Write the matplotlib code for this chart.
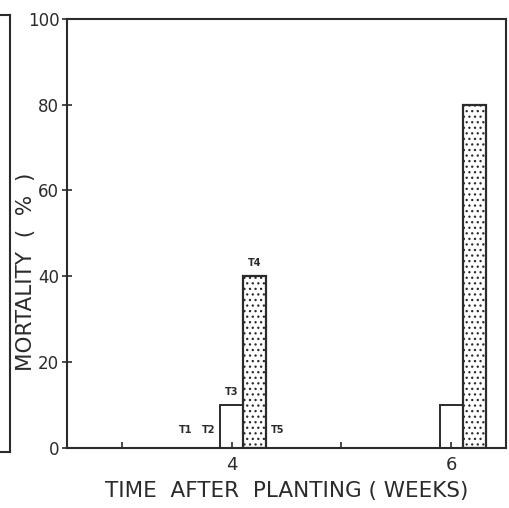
import matplotlib.pyplot as plt
import numpy as np

# mortality (%) per treatment at 4 and 6 weeks after planting
weeks = [4, 6]
treatments = ["T1", "T2", "T3", "T4", "T5"]
mortality = {
    "T1": [0, 0],
    "T2": [0, 0],
    "T3": [10, 10],
    "T4": [40, 80],
    "T5": [0, 0],
}
yticks = [0, 20, 40, 60, 80, 100]

plt.rcParams["hatch.linewidth"] = 0.9
ink = "#2b2b2b"

fig = plt.figure(figsize=(5.09, 5.08), dpi=100)
ax = fig.add_axes([0.1316, 0.118, 0.8624, 0.845])

# edge of the neighbouring panel, cut off on the left
nb = fig.add_axes([-0.5, 0.11, 0.52, 0.86])
nb.set_xticks([])
nb.set_yticks([])
for s in nb.spines.values():
    s.set_linewidth(1.5)
    s.set_color(ink)

w = 0.21
x = np.array(weeks, dtype=float)
for i, t in enumerate(treatments):
    xs = x + (i - 2) * w
    vals = mortality[t]
    if t == "T4":
        ax.bar(xs, vals, width=w, facecolor="white", edgecolor=ink,
               linewidth=1.6, hatch="...")
    else:
        ax.bar(xs, vals, width=w, facecolor="white", edgecolor=ink,
               linewidth=1.4)
    # treatment labels only on the first group
    lab_y = vals[0] + 2 if vals[0] > 0 else 3
    ax.text(xs[0], lab_y, t, ha="center", va="bottom", fontsize=7,
            fontweight="bold", color=ink)

ax.set_xlim(2.5, 6.5)
ax.set_ylim(0, 100)
ax.set_xticks([3, 4, 5, 6])
ax.set_xticklabels(["", "4", "", "6"])
ax.set_yticks(yticks)
ax.tick_params(axis="x", direction="in", length=4, width=1.2, colors=ink,
               labelsize=13, pad=6)
ax.tick_params(axis="y", direction="inout", length=7, width=1.2, colors=ink,
               labelsize=12, pad=2)
for s in ax.spines.values():
    s.set_linewidth(1.5)
    s.set_color(ink)

ax.set_xlabel("TIME  AFTER  PLANTING ( WEEKS)", fontsize=15.5, color=ink,
              labelpad=5)
ax.set_ylabel("MORTALITY  (  %  )", fontsize=15.5, color=ink)
ax.yaxis.set_label_coords(-0.071, 0.41)

fig.savefig("out.png", dpi=100)
